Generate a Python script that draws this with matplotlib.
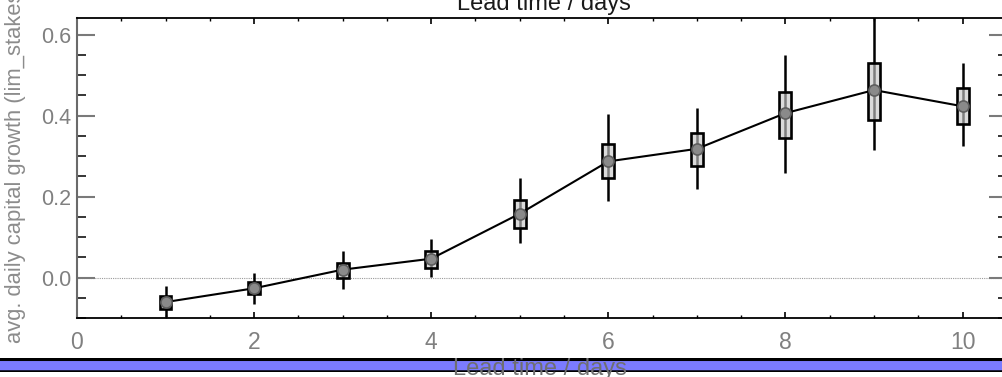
import matplotlib
matplotlib.use("Agg")
import matplotlib.pyplot as plt
from matplotlib.ticker import MultipleLocator

plt.rcParams['font.family'] = ['Liberation Sans', 'DejaVu Sans']

# lead time (days) and summary statistics of daily capital growth
lead_days = [1, 2, 3, 4, 5, 6, 7, 8, 9, 10]
mean_growth = [-0.060, -0.026, 0.020, 0.047, 0.158, 0.287, 0.318, 0.406, 0.463, 0.423]
q_low = [-0.078, -0.041, 0.000, 0.024, 0.122, 0.247, 0.275, 0.344, 0.390, 0.380]
q_high = [-0.044, -0.011, 0.037, 0.065, 0.191, 0.331, 0.356, 0.457, 0.530, 0.468]
whisk_low = [-0.097, -0.064, -0.027, 0.002, 0.086, 0.189, 0.220, 0.258, 0.314, 0.324]
whisk_high = [-0.021, 0.012, 0.065, 0.095, 0.247, 0.405, 0.418, 0.549, 0.680, 0.530]

x_ticks = [0, 2, 4, 6, 8, 10]
y_ticks = [0.0, 0.2, 0.4, 0.6]

fig = plt.figure(figsize=(10.02, 3.77), dpi=100)
ax = fig.add_axes([0.0768, 0.1557, 0.928, 0.7958])

ax.axhline(0, color='#9a9a9a', lw=0.8, ls=(0, (1, 1)), zorder=1)

# whiskers
ax.vlines(lead_days, whisk_low, whisk_high, color='black', lw=1.8, zorder=2)
# inter-quantile boxes (translucent so the whisker shows through)
heights = [h - l for h, l in zip(q_high, q_low)]
ax.bar(lead_days, heights, bottom=q_low, width=0.135,
       facecolor=(0.78, 0.78, 0.78, 0.64), edgecolor='black', linewidth=1.9, zorder=3)
# mean line and markers
ax.plot(lead_days, mean_growth, color='black', lw=1.5, zorder=4)
ax.plot(lead_days, mean_growth, ls='none', marker='o', ms=8,
        mfc='#8a8a8a', mec='#5e5e5e', mew=1.2, zorder=5)

ax.set_xlim(0, 10.5)
ax.set_ylim(-0.1, 0.64)
ax.set_xticks(x_ticks)
ax.set_yticks(y_ticks)
ax.set_yticklabels([f"{v:.1f}" for v in y_ticks])
ax.xaxis.set_minor_locator(MultipleLocator(0.5))
ax.yaxis.set_minor_locator(MultipleLocator(0.05))

ax.tick_params(axis='y', which='major', direction='in', length=13, width=1.5,
               color='#7a7a7a', left=True, right=True, labelcolor='#808080',
               labelsize=15.5, pad=4.3)
ax.tick_params(axis='y', which='minor', direction='in', length=6.8, width=1.1,
               color='black', left=True, right=True)
ax.tick_params(axis='x', which='major', direction='in', length=4.3, width=1.2,
               color='black', top=True, bottom=True, labelcolor='#808080',
               labelsize=16.5, pad=9.5)
ax.tick_params(axis='x', which='minor', direction='in', length=2.4, width=1.0,
               color='black', top=True, bottom=True)

for side in ('top', 'bottom', 'right'):
    ax.spines[side].set_color('black')
    ax.spines[side].set_linewidth(1.3)
ax.spines['left'].set_color('#6a6a6a')
ax.spines['left'].set_linewidth(1.5)

# y label, running off the top edge
fig.text(16 / 1002, 1 - 343 / 377, "avg. daily capital growth (lim_stakes)",
         rotation=90, ha='center', va='bottom', color='#8c8c8c', fontsize=15.8)

# top axis caption
fig.text(544 / 1002, 1 - 10 / 377, "Lead time / days", ha='center', va='baseline',
         color='#1a1a1a', fontsize=17)

# bottom band with caption
band = fig.add_axes([0, 1 - 372 / 377, 1, (372 - 358) / 377])
band.set_xlim(0, 1)
band.set_ylim(0, 1)
band.axis('off')
band.axhspan(0.0, 1.0, color='#7b7bff', zorder=1)
band.axhline(0.93, color='black', lw=2.2, zorder=2)
band.axhline(0.08, color='black', lw=1.8, zorder=2)
fig.text(540 / 1002, 1 - 375 / 377, "Lead time / days", ha='center', va='baseline',
         color='#6f6f6f', fontsize=17, zorder=10)

fig.savefig("out.png", dpi=100)
